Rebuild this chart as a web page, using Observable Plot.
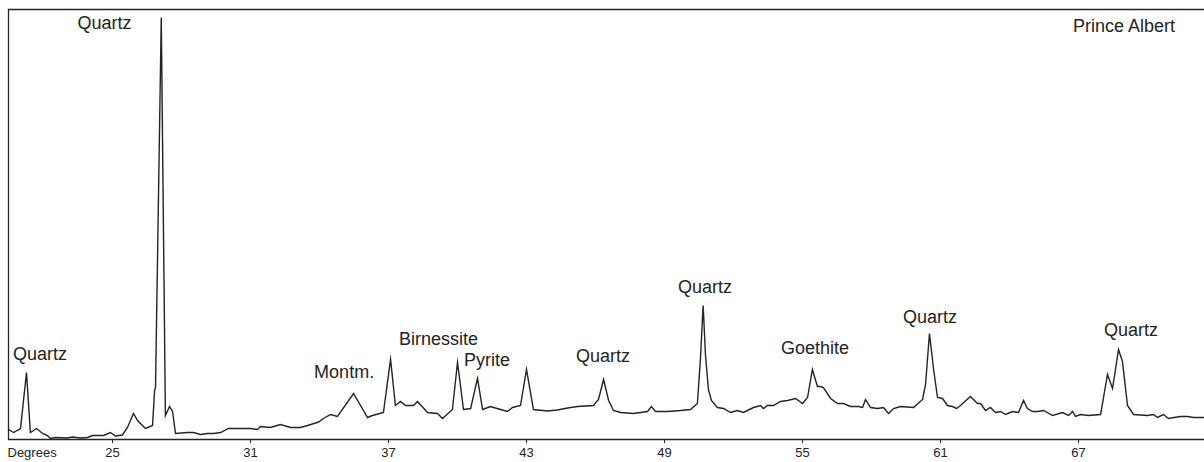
<!DOCTYPE html>
<html>
<head>
<meta charset="utf-8">
<script src="https://cdn.jsdelivr.net/npm/d3@7"></script>
<script src="https://cdn.jsdelivr.net/npm/@observablehq/plot@0.6"></script>
<style>
  html, body { margin: 0; padding: 0; background: #fff; }
  #chart { width: 1204px; height: 462px; overflow: hidden; }
</style>
</head>
<body>
<div id="chart"></div>
<script>
// 2-theta angle (degrees)
const degrees = [20.48, 20.70, 21.00, 21.26, 21.43, 21.70, 21.96, 22.17, 22.30, 22.52, 23.04, 23.26, 23.61, 23.91, 24.13, 24.61, 24.91, 25.13, 25.43, 25.65, 25.91, 26.09, 26.43, 26.74, 26.83, 26.87, 27.12, 27.30, 27.48, 27.61, 27.74, 28.26, 28.52, 28.83, 29.13, 29.39, 29.70, 30.04, 30.57, 31.00, 31.30, 31.43, 31.87, 32.30, 32.74, 33.17, 33.48, 33.96, 34.17, 34.48, 34.78, 35.48, 36.09, 36.30, 36.78, 37.09, 37.30, 37.52, 37.74, 38.09, 38.26, 38.70, 39.13, 39.35, 39.78, 40.00, 40.26, 40.57, 40.87, 41.09, 41.43, 41.87, 42.17, 42.39, 42.74, 43.00, 43.30, 43.91, 44.35, 44.78, 45.22, 45.91, 46.13, 46.35, 46.57, 46.78, 47.09, 47.65, 48.26, 48.43, 48.61, 49.13, 49.70, 50.13, 50.43, 50.56, 50.68, 50.78, 50.91, 51.04, 51.30, 51.57, 51.87, 52.17, 52.43, 52.87, 53.17, 53.30, 53.48, 53.74, 54.04, 54.35, 54.70, 55.00, 55.22, 55.43, 55.65, 55.78, 55.91, 56.22, 56.52, 56.78, 57.09, 57.43, 57.61, 57.74, 57.96, 58.26, 58.52, 58.74, 58.96, 59.26, 59.83, 60.22, 60.35, 60.52, 60.70, 60.87, 61.09, 61.30, 61.52, 61.70, 61.87, 62.30, 62.61, 62.74, 62.96, 63.17, 63.39, 63.61, 63.83, 64.13, 64.39, 64.61, 64.78, 65.00, 65.22, 65.48, 65.87, 66.30, 66.57, 66.74, 66.87, 67.09, 67.43, 67.96, 68.26, 68.48, 68.74, 68.91, 69.13, 69.39, 70.00, 70.26, 70.43, 70.70, 70.91, 71.43, 71.74, 72.00, 72.43];
// diffraction intensity (arbitrary units)
const intensity = [10, 7, 11, 67, 7, 11, 6, 4, 1, 2, 1.5, 2.5, 1.5, 2, 4, 4, 7, 3.5, 4.5, 12, 26, 19, 11, 14, 49, 52, 422, 24, 33, 28, 6, 7, 7, 5, 6, 6, 7, 11, 11, 11, 10, 13, 12, 15, 12, 12, 14, 17.5, 21, 25, 23, 46, 22, 24, 27, 80, 34, 38, 34, 34, 38, 27, 26, 21, 30, 77, 30, 31, 61, 30, 33, 30, 28, 32, 34, 70, 30, 28.5, 29.5, 31.5, 33, 34, 40, 60, 39, 29, 27, 26, 28, 33, 28, 28, 29, 30, 36, 80, 134, 85, 50, 39, 32, 31, 27, 29, 27, 32, 34, 31, 34, 34, 38, 39, 41, 36, 42, 70, 53, 53, 52, 41, 36, 36, 33, 33, 32, 40, 32, 31, 32, 26, 31, 33, 32, 40, 55, 106, 70, 42, 41, 34, 33, 31, 34, 43, 36, 36, 29, 32, 27, 28, 25, 28, 27, 39, 31, 28, 28, 29, 24, 27, 24, 28, 23, 25, 24, 25, 65, 51, 90, 78, 34, 25, 24, 25, 22, 25, 21, 23, 23, 22, 22];

// peak annotations
const labelText = ["Quartz", "Quartz", "Montm.", "Birnessite", "Pyrite", "Quartz", "Quartz", "Goethite", "Quartz", "Quartz"];
const labelDeg  = [21.85, 24.65, 35.07, 39.17, 41.28, 46.33, 50.76, 55.54, 60.54, 69.28];
const labelInt  = [85, 416, 67, 100, 79.5, 83, 152, 91, 122, 109];

const sampleName = "Prince Albert";
const sampleDeg = 68.98;
const sampleInt = 413;

const tickValues = [25, 31, 37, 43, 49, 55, 61, 67];
const axisTitle = "Degrees";

const xDomain = [20.478, 72.478];
const yDomain = [0, 430];

const spectrum = degrees.map((d, i) => ({deg: d, val: intensity[i]}));
const labels = labelText.map((t, i) => ({text: t, deg: labelDeg[i], val: labelInt[i]}));

const ink = "#232323";
const font = "'Liberation Sans', Arial, sans-serif";

const chart = Plot.plot({
  width: 1204,
  height: 462,
  marginLeft: 8,
  marginRight: 0,
  marginTop: 9,
  marginBottom: 23,
  style: {fontFamily: font, fontSize: "13px", color: ink, background: "#fff"},
  x: {domain: xDomain},
  y: {domain: yDomain, axis: null},
  marks: [
    Plot.ruleY([yDomain[1]], {stroke: ink, strokeWidth: 1.3}),
    Plot.ruleX([xDomain[0]], {stroke: ink, strokeWidth: 1.3}),
    Plot.line(spectrum, {x: "deg", y: "val", stroke: ink, strokeWidth: 1.4, strokeLinejoin: "miter", strokeMiterlimit: 10, curve: "linear"}),
    Plot.ruleY([0], {stroke: ink, strokeWidth: 1.3}),
    Plot.axisX({ticks: tickValues, tickSize: 4, tickPadding: 4, tickFormat: d => String(d), label: null, stroke: ink, fill: ink, fontSize: 13}),
    Plot.text([axisTitle], {frameAnchor: "bottom-left", dx: -1, dy: 8, lineAnchor: "top", textAnchor: "start", fill: ink, fontSize: 13}),
    Plot.text(labels, {x: "deg", y: "val", text: "text", fill: ink, fontSize: 18, textAnchor: "middle", lineAnchor: "middle"}),
    Plot.text([sampleName], {x: () => sampleDeg, y: () => sampleInt, fill: ink, fontSize: 18, textAnchor: "middle", lineAnchor: "middle"})
  ]
});

document.getElementById("chart").appendChild(chart);
</script>
</body>
</html>
